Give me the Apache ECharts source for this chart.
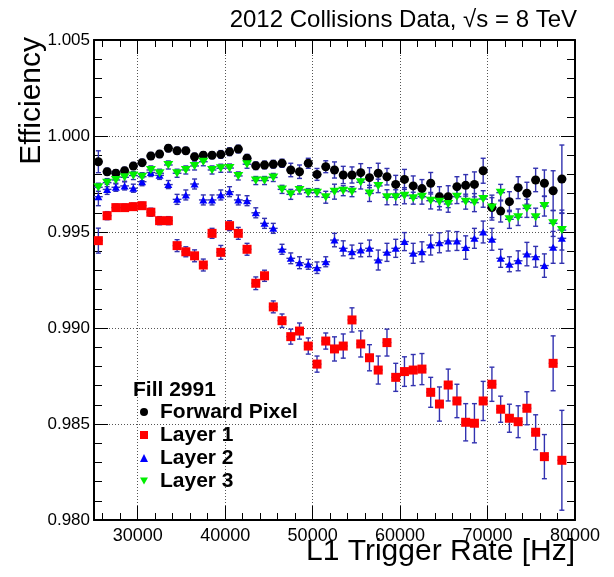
<!DOCTYPE html>
<html>
<head>
<meta charset="utf-8">
<script src="https://cdn.jsdelivr.net/npm/echarts@6/dist/echarts.min.js"></script>
<style>
  html, body { margin: 0; padding: 0; background: #ffffff; }
  #chart { width: 614px; height: 577px; }
</style>
</head>
<body>
<div id="chart"></div>
<script>
// L1 trigger rate bins [Hz]
const rates = [25500, 26500, 27500, 28500, 29500, 30500, 31500, 32500, 33500, 34500,
  35500, 36500, 37500, 38500, 39500, 40500, 41500, 42500, 43500, 44500,
  45500, 46500, 47500, 48500, 49500, 50500, 51500, 52500, 53500, 54500,
  55500, 56500, 57500, 58500, 59500, 60500, 61500, 62500, 63500, 64500,
  65500, 66500, 67500, 68500, 69500, 70500, 71500, 72500, 73500, 74500,
  75500, 76500, 77500, 78500];

// Forward Pixel efficiency and uncertainty
const fwdEff = [0.99866, 0.99814, 0.99806, 0.99819, 0.99844, 0.99861, 0.99896, 0.99906, 0.99936, 0.99923,
  0.99923, 0.99892, 0.99900, 0.99900, 0.99904, 0.99918, 0.99932, 0.99884, 0.99845, 0.99849,
  0.99853, 0.99858, 0.99823, 0.99814, 0.99858, 0.99800, 0.99840, 0.99823, 0.99797, 0.99797,
  0.99809, 0.99783, 0.99806, 0.99788, 0.99748, 0.99774, 0.99740, 0.99726, 0.99754, 0.99684,
  0.99684, 0.99736, 0.99743, 0.99748, 0.99819, 0.99627, 0.99609, 0.99658, 0.99731, 0.99702,
  0.99771, 0.99754, 0.99715, 0.99776];
const fwdErr = [0.00057, 0.00018, 0.00018, 0.00018, 0.00018, 0.00018, 0.00018, 0.00018, 0.00018, 0.00018,
  0.00018, 0.00018, 0.00018, 0.00018, 0.0002, 0.0002, 0.0002, 0.0002, 0.0002, 0.0002,
  0.0002, 0.00021, 0.00035, 0.00035, 0.00026, 0.00031, 0.00031, 0.00042, 0.00045, 0.00042,
  0.00047, 0.00052, 0.00052, 0.00043, 0.00047, 0.00052, 0.00052, 0.00047, 0.00056, 0.00052,
  0.00057, 0.00052, 0.00056, 0.00065, 0.00065, 0.00065, 0.00057, 0.00052, 0.00057, 0.00057,
  0.00061, 0.00069, 0.00104, 0.00177];

// Layer 1
const l1Eff = [0.99455, 0.99585, 0.99627, 0.99627, 0.99632, 0.99637, 0.99603, 0.99559, 0.99559, 0.99429,
  0.99397, 0.99376, 0.99328, 0.99493, 0.99394, 0.99533, 0.99493, 0.99410, 0.99233, 0.99272,
  0.99110, 0.99038, 0.98955, 0.98984, 0.98906, 0.98812, 0.98932, 0.98891, 0.98906, 0.99042,
  0.98917, 0.98845, 0.98781, 0.98924, 0.98743, 0.98773, 0.98781, 0.98786, 0.98665, 0.98604,
  0.98703, 0.98620, 0.98509, 0.98504, 0.98620, 0.98707, 0.98577, 0.98530, 0.98512, 0.98582,
  0.98457, 0.98330, 0.98816, 0.98311];
const l1Err = [0.00065, 0.00021, 0.00018, 0.00018, 0.00018, 0.00018, 0.00021, 0.00021, 0.00021, 0.00031,
  0.00026, 0.00031, 0.00031, 0.00026, 0.00036, 0.00026, 0.00031, 0.00031, 0.00033, 0.00029,
  0.00031, 0.00035, 0.00039, 0.00042, 0.00042, 0.00042, 0.00042, 0.00063, 0.00063, 0.00063,
  0.00068, 0.00068, 0.00073, 0.0007, 0.00073, 0.00077, 0.00081, 0.00081, 0.00078, 0.00089,
  0.00083, 0.00087, 0.00097, 0.00102, 0.00102, 0.00089, 0.00068, 0.00073, 0.00083, 0.00086,
  0.00091, 0.00115, 0.00143, 0.0026];

// Layer 2
const l2Eff = [0.99684, 0.99722, 0.99733, 0.99740, 0.99728, 0.99762, 0.99810, 0.99795, 0.99747, 0.99670,
  0.99693, 0.99750, 0.99667, 0.99667, 0.99693, 0.99710, 0.99667, 0.99663, 0.99600, 0.99545,
  0.99519, 0.99410, 0.99363, 0.99340, 0.99332, 0.99314, 0.99345, 0.99458, 0.99415, 0.99397,
  0.99406, 0.99415, 0.99354, 0.99394, 0.99415, 0.99450, 0.99389, 0.99397, 0.99432, 0.99444,
  0.99453, 0.99453, 0.99419, 0.99467, 0.99500, 0.99462, 0.99363, 0.99332, 0.99350, 0.99385,
  0.99371, 0.99325, 0.99420, 0.99467];
const l2Err = [0.00047, 0.00026, 0.00021, 0.00021, 0.00021, 0.00021, 0.00021, 0.00021, 0.00021, 0.00026,
  0.00026, 0.00026, 0.00026, 0.00026, 0.00026, 0.00026, 0.00026, 0.00026, 0.00026, 0.00026,
  0.00026, 0.00026, 0.00028, 0.00031, 0.00026, 0.0003, 0.00026, 0.00035, 0.00039, 0.00035,
  0.00035, 0.00043, 0.00052, 0.00047, 0.00047, 0.00047, 0.00052, 0.00052, 0.00052, 0.00052,
  0.00052, 0.00049, 0.00061, 0.00052, 0.00057, 0.00057, 0.00047, 0.00039, 0.00052, 0.00061,
  0.00054, 0.00061, 0.00083, 0.0013];

// Layer 3
const l3Eff = [0.99733, 0.99757, 0.99771, 0.99785, 0.99794, 0.99788, 0.99823, 0.99806, 0.99849, 0.99806,
  0.99823, 0.99844, 0.99866, 0.99823, 0.99832, 0.99833, 0.99792, 0.99853, 0.99768, 0.99768,
  0.99784, 0.99722, 0.99696, 0.99719, 0.99705, 0.99705, 0.99681, 0.99710, 0.99715, 0.99710,
  0.99759, 0.99701, 0.99740, 0.99681, 0.99681, 0.99689, 0.99676, 0.99684, 0.99663, 0.99658,
  0.99646, 0.99684, 0.99658, 0.99653, 0.99672, 0.99627, 0.99705, 0.99566, 0.99577, 0.99623,
  0.99577, 0.99635, 0.99545, 0.99510];
const l3Err = [0.00021, 0.00021, 0.00021, 0.00021, 0.00021, 0.00021, 0.00021, 0.00021, 0.00021, 0.00021,
  0.00021, 0.00021, 0.00021, 0.00021, 0.00021, 0.00021, 0.00021, 0.00021, 0.00021, 0.00021,
  0.00021, 0.00021, 0.00026, 0.00021, 0.00021, 0.00021, 0.00031, 0.00039, 0.00026, 0.00026,
  0.00035, 0.00042, 0.00035, 0.00039, 0.00039, 0.00042, 0.00031, 0.00039, 0.00043, 0.00043,
  0.00043, 0.00036, 0.00039, 0.00047, 0.00043, 0.00052, 0.00043, 0.00047, 0.00043, 0.00047,
  0.00047, 0.00052, 0.00068, 0.00104];

// Axis ticks
const xLabelTicks = [30000, 40000, 50000, 60000, 70000, 80000];
const xMajorTicks = [30000, 40000, 50000, 60000, 70000];
const xMinorTicks = [26000, 28000, 32000, 34000, 36000, 38000, 42000, 44000, 46000, 48000,
  52000, 54000, 56000, 58000, 62000, 64000, 66000, 68000, 72000, 74000, 76000, 78000];
const xRange = [25000, 80000];
const yRange = [0.980, 1.005];
const yStep = 0.005;

// Half bin width drawn as the horizontal error
const binHalfWidth = 500;

const FONT = '"Liberation Sans", Arial, Helvetica, sans-serif';
const ERR_COLOR = '#3232b0';

const groups = [
  { name: 'Forward Pixel', eff: fwdEff, err: fwdErr, color: '#000000', symbol: 'circle', size: 9 },
  { name: 'Layer 1', eff: l1Eff, err: l1Err, color: '#ff0000', symbol: 'rect', size: 9 },
  { name: 'Layer 2', eff: l2Eff, err: l2Err, color: '#0000ff', symbol: 'triangle', size: [8, 7] },
  { name: 'Layer 3', eff: l3Eff, err: l3Err, color: '#00ee00', symbol: 'path://M0,0L10,0L5,8.5Z', size: [10, 8] }
];

function renderErrorBar(params, api) {
  const x = api.value(0), y = api.value(1), e = api.value(2);
  const top = api.coord([x, y + e]);
  const bot = api.coord([x, y - e]);
  const left = api.coord([x - binHalfWidth, y]);
  const right = api.coord([x + binHalfWidth, y]);
  const cap = 2.5;
  const style = { stroke: ERR_COLOR, lineWidth: 1.4, fill: null };
  return {
    type: 'group',
    children: [
      { type: 'line', shape: { x1: top[0], y1: top[1], x2: bot[0], y2: bot[1] }, style },
      { type: 'line', shape: { x1: top[0] - cap, y1: top[1], x2: top[0] + cap, y2: top[1] }, style },
      { type: 'line', shape: { x1: bot[0] - cap, y1: bot[1], x2: bot[0] + cap, y2: bot[1] }, style },
      { type: 'line', shape: { x1: left[0], y1: left[1], x2: right[0], y2: right[1] }, style }
    ]
  };
}

const series = [];
groups.forEach(g => {
  series.push({
    name: g.name + ' uncertainty',
    type: 'custom',
    renderItem: renderErrorBar,
    encode: { x: 0, y: 1 },
    silent: true,
    data: rates.map((r, i) => [r, g.eff[i], g.err[i]])
  });
  series.push({
    name: g.name,
    type: 'scatter',
    symbol: g.symbol,
    symbolSize: g.size,
    itemStyle: { color: g.color, opacity: 1 },
    emphasis: { disabled: true },
    silent: true,
    data: rates.map((r, i) => [r, g.eff[i]])
  });
});

const frameLine = { show: true, onZero: false, lineStyle: { color: '#000', width: 2 } };
const gridLine = { show: true, lineStyle: { color: '#555', width: 1, type: [1, 2] } };

function xAxisDef(position, ticks, length, withLabels, withLine, withSplit) {
  return {
    type: 'value', position, min: xRange[0], max: xRange[1],
    axisLine: withLine ? frameLine : { show: false },
    axisTick: { show: true, inside: true, length, customValues: ticks,
      lineStyle: { color: '#000', width: 1 } },
    axisLabel: withLabels ? {
      show: true, customValues: xLabelTicks, margin: 7, color: '#000',
      fontFamily: FONT, fontSize: 18, formatter: v => String(v)
    } : { show: false },
    splitLine: withSplit ? gridLine : { show: false },
    minorTick: { show: false }
  };
}

function yAxisDef(position, withLabels, withSplit) {
  return {
    type: 'value', position, min: yRange[0], max: yRange[1], interval: yStep,
    axisLine: frameLine,
    axisTick: { show: true, inside: true, length: 14, lineStyle: { color: '#000', width: 1 } },
    minorTick: { show: true, splitNumber: 5, length: 8, lineStyle: { color: '#000', width: 1 } },
    axisLabel: withLabels ? {
      show: true, margin: 4, color: '#000', fontFamily: FONT, fontSize: 17,
      formatter: v => v.toFixed(3)
    } : { show: false },
    splitLine: withSplit ? gridLine : { show: false }
  };
}

const chart = echarts.init(document.getElementById('chart'), null, { renderer: 'canvas' });
chart.setOption({
  animation: false,
  backgroundColor: '#ffffff',
  grid: { left: 94, right: 39, top: 40, bottom: 57, containLabel: false },
  title: [
    {
      text: '2012 Collisions Data, \u221As = 8 TeV',
      right: 37, top: 8, padding: 0,
      textStyle: { fontFamily: FONT, fontSize: 24, fontWeight: 'normal', color: '#000' }
    },
    {
      text: 'Fill 2991',
      left: 133, top: 380, padding: 0,
      textStyle: { fontFamily: FONT, fontSize: 21, fontWeight: 'bold', color: '#000' }
    }
  ],
  legend: {
    orient: 'vertical', left: 140, top: 401, padding: 0,
    itemWidth: 8, itemHeight: 8, itemGap: 1, selectedMode: false,
    textStyle: { fontFamily: FONT, fontSize: 21, fontWeight: 'bold', color: '#000',
      lineHeight: 22, padding: [0, 0, 0, 7] },
    data: groups.map(g => ({ name: g.name, icon: g.symbol, itemStyle: { color: g.color } }))
  },
  xAxis: [
    xAxisDef('bottom', xMajorTicks, 14, true, true, true),
    xAxisDef('bottom', xMinorTicks, 7, false, false, false),
    xAxisDef('top', xMajorTicks, 14, false, true, false),
    xAxisDef('top', xMinorTicks, 7, false, false, false)
  ],
  yAxis: [
    yAxisDef('left', true, true),
    yAxisDef('right', false, false)
  ],
  graphic: [
    {
      type: 'text', x: 32, y: 37, rotation: Math.PI / 2, silent: true,
      style: { text: 'Efficiency', font: '30px ' + FONT, fill: '#000',
        align: 'right', verticalAlign: 'middle', textAlign: 'right', textVerticalAlign: 'middle' }
    },
    {
      type: 'text', x: 575, y: 552, silent: true,
      style: { text: 'L1 Trigger Rate [Hz]', font: '30px ' + FONT, fill: '#000',
        align: 'right', verticalAlign: 'middle', textAlign: 'right', textVerticalAlign: 'middle' }
    }
  ],
  series
});
</script>
</body>
</html>
